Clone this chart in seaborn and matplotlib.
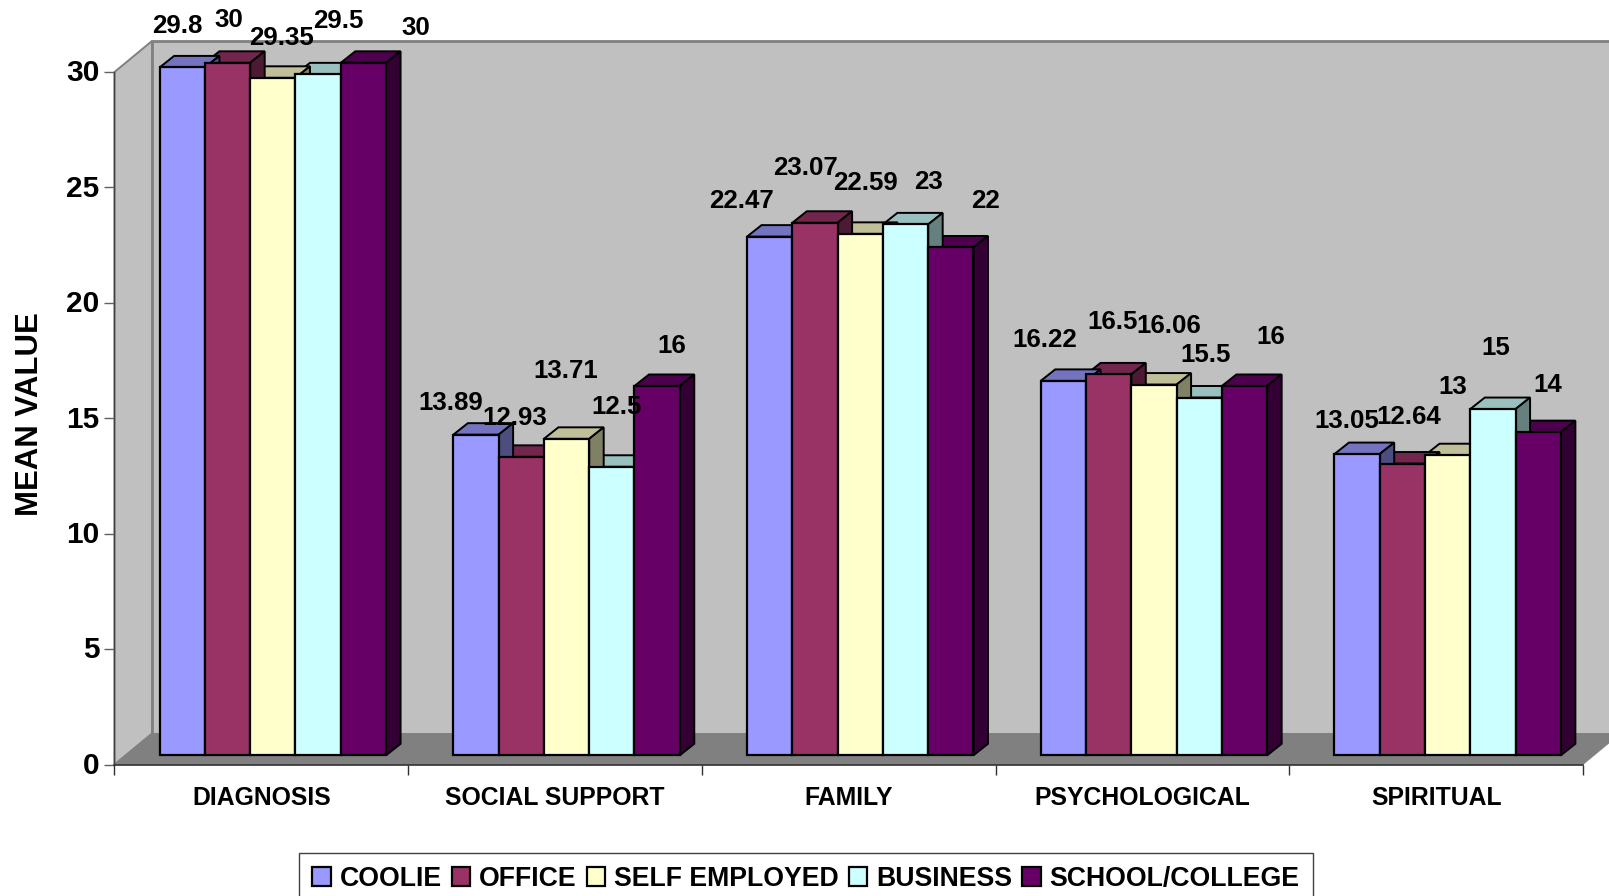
import matplotlib
matplotlib.use('Agg')
import matplotlib.pyplot as plt
from matplotlib.patches import Polygon
from matplotlib.ticker import FixedLocator
from matplotlib.transforms import ScaledTranslation
import seaborn as sns
import pandas as pd

# Data
categories = ['DIAGNOSIS', 'SOCIAL SUPPORT', 'FAMILY', 'PSYCHOLOGICAL', 'SPIRITUAL']
series = ['COOLIE', 'OFFICE', 'SELF EMPLOYED', 'BUSINESS', 'SCHOOL/COLLEGE']
coolie = [29.8, 13.89, 22.47, 16.22, 13.05]
office = [30, 12.93, 23.07, 16.5, 12.64]
self_employed = [29.35, 13.71, 22.59, 16.06, 13]
business = [29.5, 12.5, 23, 15.5, 15]
school_college = [30, 16, 22, 16, 14]

# Colours: front, top, side
front_colors = ['#9999FF', '#993366', '#FFFFCC', '#CCFFFF', '#660066']
top_colors = ['#7373BF', '#73264D', '#BFBF99', '#99BFBF', '#4D004D']
side_colors = ['#4D4D80', '#4D1A33', '#808066', '#668080', '#330033']

# The data labels were moved by hand in the original, pixel offsets from each bar top
label_offsets = [
    [(-5, -41), (1, -43), (9, -40), (20, -53), (52, -35)],
    [(-25, -32), (-7, -39), (-1, -68), (5, -60), (15, -40)],
    [(-28, -36), (-9, -55), (5, -51), (23, -42), (35, -46)],
    [(-19, -41), (4, -52), (15, -59), (6, -43), (26, -49)],
    [(-10, -33), (6, -47), (5, -68), (3, -61), (10, -47)],
]

W, H = 1609, 896
LEFT, RIGHT, TOP, BOTTOM = 114.5, 1583, 72, 764.5

# Long form table for seaborn
df = pd.DataFrame({
    'category': categories * len(series),
    'series': [s for s in series for _ in categories],
    'value': coolie + office + self_employed + business + school_college,
})

sns.set_style('white')
plt.rcParams['font.family'] = ['Liberation Sans', 'DejaVu Sans']
plt.rcParams['font.weight'] = 'bold'
plt.rcParams['text.color'] = 'black'
plt.rcParams['axes.labelcolor'] = 'black'
plt.rcParams['xtick.labelcolor'] = 'black'
plt.rcParams['ytick.labelcolor'] = 'black'

fig = plt.figure(figsize=(W / 100, H / 100), dpi=100)
ax = fig.add_axes([LEFT / W, 1 - BOTTOM / H, (RIGHT - LEFT) / W, (BOTTOM - TOP) / H])

sns.barplot(data=df, x='category', y='value', hue='series', order=categories, hue_order=series,
            palette=front_colors, width=0.771, gap=0, dodge=True, saturation=1,
            edgecolor='black', linewidth=1.6, legend=True, ax=ax, zorder=6, clip_on=False)

ax.set_xlim(-0.5, 4.5)
ax.set_ylim(0, 30)

# one pixel in data units
px = 5 / (RIGHT - LEFT)
py = 30 / (BOTTOM - TOP)

# 3D frame: side wall, back wall and floor
wall_dx, wall_dy = 37.5 * px, 31 * py
x0, x1 = -0.5, 4.5
wall_kw = dict(clip_on=False, joinstyle='miter')
ax.add_patch(Polygon([(x0 + wall_dx, wall_dy), (x0 + wall_dx, 30 + wall_dy), (x1 + 2 * wall_dx, 30 + wall_dy),
                      (x1 + 2 * wall_dx, wall_dy)], fc='#C0C0C0', ec='#808080', lw=2, zorder=1, **wall_kw))
ax.add_patch(Polygon([(x0, 0), (x0, 30), (x0 + wall_dx, 30 + wall_dy), (x0 + wall_dx, wall_dy)],
                     fc='#C0C0C0', ec='#808080', lw=1.4, zorder=1.5, **wall_kw))
ax.add_patch(Polygon([(x0, 0), (x1, 0), (x1 + wall_dx, wall_dy), (x0 + wall_dx, wall_dy)],
                     fc='#808080', ec='#808080', lw=0.5, zorder=2, **wall_kw))

# Move the bars in from the front plane, then add top and side faces
shift_x, shift_y = 11.5 * px, 9.2 * py
depth_x, depth_y = 14.5 * px, 11.5 * py
for s_idx in range(len(series) - 1, -1, -1):
    for c_idx, bar in enumerate(ax.containers[s_idx]):
        bar.set_x(bar.get_x() + shift_x)
        bar.set_y(shift_y)
        xl, xr = bar.get_x(), bar.get_x() + bar.get_width()
        yb, yt = shift_y, shift_y + bar.get_height()
        z = 3 + (len(series) - s_idx) * 0.1
        ax.add_patch(Polygon([(xl, yt), (xr, yt), (xr + depth_x, yt + depth_y), (xl + depth_x, yt + depth_y)],
                             fc=top_colors[s_idx], ec='black', lw=1.4, zorder=z, clip_on=False))
        ax.add_patch(Polygon([(xr, yb), (xr, yt), (xr + depth_x, yt + depth_y), (xr + depth_x, yb + depth_y)],
                             fc=side_colors[s_idx], ec='black', lw=1.4, zorder=z, clip_on=False))
        # value labels
        dx, dy = label_offsets[c_idx][s_idx]
        value = df[(df['series'] == series[s_idx]) & (df['category'] == categories[c_idx])]['value'].iloc[0]
        ax.text((xl + xr) / 2 + dx * px, yt - dy * py, f'{value:g}', ha='center', va='center',
                fontsize=18.6, fontweight='bold', color='black', clip_on=False, zorder=8)

# Axes
sns.despine(ax=ax, top=True, right=True)
ax.spines['left'].set_color('#404040')
ax.spines['bottom'].set_color('#303030')
ax.spines['left'].set_linewidth(1)
ax.spines['bottom'].set_linewidth(1.2)
for sp in ax.spines.values():
    sp.set_zorder(5)

ax.set_yticks([0, 5, 10, 15, 20, 25, 30])
ax.tick_params(axis='y', which='major', left=True, length=7.5, width=1, color='#606060', labelsize=21.5, pad=3.5)
ax.tick_params(axis='x', which='major', bottom=False, length=0, labelsize=17.8, pad=15.4)
ax.xaxis.set_minor_locator(FixedLocator([-0.5, 0.5, 1.5, 2.5, 3.5, 4.5]))
ax.tick_params(axis='x', which='minor', bottom=True, length=7.5, width=1, color='#303030')
for t in ax.get_xticklabels() + ax.get_yticklabels():
    t.set_fontweight('bold')
# y tick numbers sit slightly above their ticks
nudge = ScaledTranslation(0, 1.6 / 100, fig.dpi_scale_trans)
for t in ax.get_yticklabels():
    t.set_transform(t.get_transform() + nudge)

ax.set_xlabel('')
ax.set_ylabel('MEAN VALUE', fontsize=22.4, fontweight='bold', va='center')
ax.yaxis.set_label_coords((30.5 - LEFT) / (RIGHT - LEFT), (BOTTOM - 414.5) / (BOTTOM - TOP))

# Legend sits in a box cut off by the bottom of the picture
handles, labels = ax.get_legend_handles_labels()
ax.legend(handles, labels, loc='upper left', bbox_to_anchor=(299 / W, 1 - 852.5 / H),
          bbox_transform=fig.transFigure, ncols=5, frameon=True, fancybox=False, edgecolor='#404040',
          framealpha=1, prop={'size': 19.2, 'weight': 'bold'}, handlelength=0.7, handleheight=0.7,
          handletextpad=0.33, columnspacing=0.37, borderpad=0.5, borderaxespad=0)

fig.savefig('out.png', dpi=100, facecolor='white')
